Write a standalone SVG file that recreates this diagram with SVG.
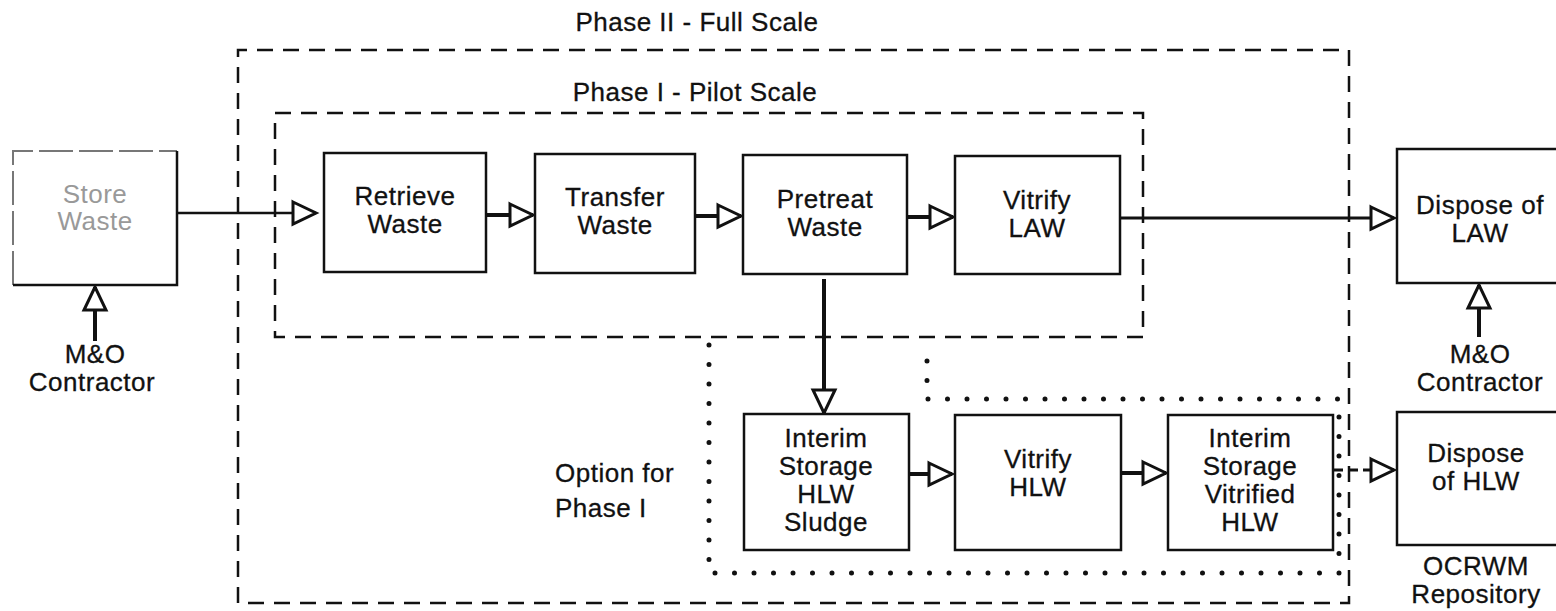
<svg xmlns="http://www.w3.org/2000/svg" width="1556" height="611" viewBox="0 0 1556 611">
<style>
text{font-family:"Liberation Sans",Arial,Helvetica,sans-serif;font-size:26px;letter-spacing:0.5px;fill:#111;stroke:#111;stroke-width:0.3;text-anchor:middle}
.box{fill:#fff;stroke:#111;stroke-width:2.5}
.dash{fill:none;stroke:#111;stroke-width:2.5;stroke-dasharray:16 10}
.dot{fill:none;stroke:#111;stroke-width:5;stroke-linecap:round;stroke-dasharray:0 19.5}
.c{fill:none;stroke:#111;stroke-width:4;marker-end:url(#ah)}
.ct{fill:none;stroke:#111;stroke-width:2.5;marker-end:url(#ah)}
.lt{text-anchor:start}
</style>
<defs>
<marker id="ah" markerUnits="userSpaceOnUse" markerWidth="30" markerHeight="30" viewBox="0 0 30 30" refX="26" refY="15" orient="auto">
<path d="M3,4 L26,15 L3,26 Z" fill="#fff" stroke="#111" stroke-width="3"/>
</marker>
</defs>
<rect width="1556" height="611" fill="#fff"/>

<g id="phase2">
<path class="dash" d="M238,603 V50 H1349 V603 Z"/>
<text x="697" y="31">Phase II - Full Scale</text>
</g>
<g id="phase1">
<path class="dash" d="M275,113 H1143 V337 H275 Z"/>
<text x="695" y="101">Phase I - Pilot Scale</text>
</g>
<g id="option">
<path class="dot" d="M709,345 V573 H1339 V399 H927 V345"/>
<text class="lt" x="555" y="482">Option for</text>
<text class="lt" x="555" y="517">Phase I</text>
</g>

<g id="connectors">
<path class="ct" d="M177,213 H316"/>
<path class="c" d="M486,215 H533"/>
<path class="c" d="M695,216 H741"/>
<path class="c" d="M907,217 H953"/>
<path fill="none" stroke="#111" stroke-width="3" marker-end="url(#ah)" d="M1120,218 H1394"/>
<path class="c" d="M824,279 V413"/>
<path class="c" d="M909,474 H952"/>
<path class="c" d="M1121,473 H1166"/>
<path fill="none" stroke="#111" stroke-width="3" stroke-dasharray="10 5" marker-end="url(#ah)" d="M1333,470 H1394"/>
<path class="c" d="M95,341 V287"/>
<path class="c" d="M1479,337 V285"/>
</g>

<g id="store">
<rect x="13" y="151" width="164" height="134" fill="#fff"/>
<path d="M13,285 V151 H177" fill="none" stroke="#777" stroke-width="2" stroke-dasharray="34 6"/>
<path d="M177,151 V285 H13" fill="none" stroke="#111" stroke-width="2.5"/>
<text x="95" y="203" style="fill:#999;stroke:none">Store</text>
<text x="95" y="230" style="fill:#999;stroke:none">Waste</text>
</g>
<g id="mo-left">
<text x="95" y="363">M&amp;O</text>
<text x="92" y="391">Contractor</text>
</g>
<g id="retrieve">
<rect class="box" x="324" y="153" width="162" height="119"/>
<text x="405" y="205">Retrieve</text>
<text x="405" y="233">Waste</text>
</g>
<g id="transfer">
<rect class="box" x="535" y="154" width="160" height="119"/>
<text x="615" y="206">Transfer</text>
<text x="615" y="234">Waste</text>
</g>
<g id="pretreat">
<rect class="box" x="743" y="155" width="164" height="119"/>
<text x="825" y="208">Pretreat</text>
<text x="825" y="236">Waste</text>
</g>
<g id="vitrify-law">
<rect class="box" x="955" y="156" width="165" height="118"/>
<text x="1037" y="209">Vitrify</text>
<text x="1037" y="237">LAW</text>
</g>
<g id="dispose-law">
<rect class="box" x="1397" y="149" width="166" height="134"/>
<text x="1480" y="214">Dispose of</text>
<text x="1480" y="242">LAW</text>
</g>
<g id="mo-right">
<text x="1480" y="363">M&amp;O</text>
<text x="1480" y="391">Contractor</text>
</g>
<g id="interim-sludge">
<rect class="box" x="744" y="414" width="165" height="136"/>
<text x="826" y="447">Interim</text>
<text x="826" y="475">Storage</text>
<text x="826" y="503">HLW</text>
<text x="826" y="531">Sludge</text>
</g>
<g id="vitrify-hlw">
<rect class="box" x="955" y="415" width="166" height="135"/>
<text x="1038" y="468">Vitrify</text>
<text x="1038" y="496">HLW</text>
</g>
<g id="interim-vitrified">
<rect class="box" x="1168" y="415" width="165" height="135"/>
<text x="1250" y="447">Interim</text>
<text x="1250" y="475">Storage</text>
<text x="1250" y="503">Vitrified</text>
<text x="1250" y="531">HLW</text>
</g>
<g id="dispose-hlw">
<rect class="box" x="1397" y="412" width="166" height="133"/>
<text x="1476" y="462">Dispose</text>
<text x="1476" y="490">of HLW</text>
<text x="1476" y="575">OCRWM</text>
<text x="1476" y="603">Repository</text>
</g>
</svg>
